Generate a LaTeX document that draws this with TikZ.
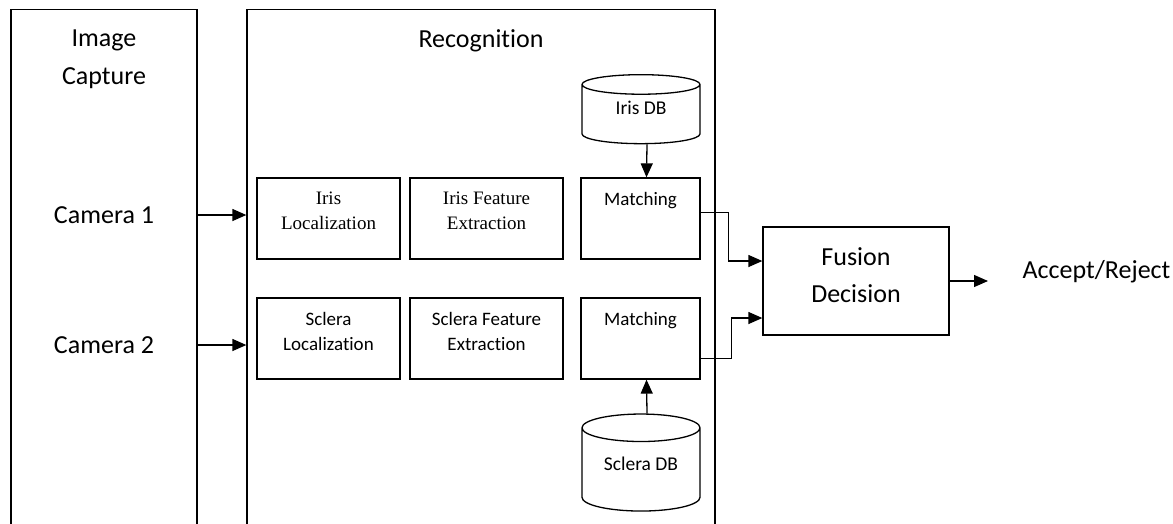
\documentclass[tikz,border=0pt]{standalone}
\usepackage{fontspec}
\setmainfont{Carlito}[Ligatures=NoCommon]
\newfontfamily\serifface{Liberation Serif}
\usetikzlibrary{arrows.meta,calc,shapes.geometric}
\def\toptext#1#2#3{\parbox[c][#2][t]{#1}{\centering #3}}

\begin{document}
\begin{tikzpicture}[x=1pt, y=-1pt, line width=1.3pt,
		panel/.style={draw, minimum height=600, anchor=north, inner sep=0},
		stage/.style={draw, inner xsep=0, inner ysep=14, font=\fontsize{19}{25}\selectfont},
		db/.style={draw, cylinder, shape border rotate=90, aspect=0.34, minimum width=118, text depth=16pt, font=\fontsize{19.5}{24}\selectfont},
		big/.style={font=\fontsize{26}{38}\selectfont, align=center, inner sep=0},
		arrow/.style={-{Triangle[length=14pt,width=12pt]}}]
			%%%%% START %%%%%
			
			\useasboundingbox (0,0) rectangle (1173,523);
			\clip (0,0) rectangle (1173,523);
			
			\node[panel, minimum width=186] (capture) at (104,9) {};
			\node[panel, minimum width=468] (recog) at (481,9) {};
			\node[big, anchor=north] (capturetitle) at (104,29) {Image\\Capture};
			\node[big, anchor=north] (recogtitle) at (481,29) {Recognition};
			
			\node[big] (cam1) at (104,215) {Camera 1};
			\node[big] (cam2) at (104,345) {Camera 2};
			
			\node[stage] (irisloc) at (328.5,218.5) {\serifface\toptext{143pt}{53pt}{Iris\\Localization}};
			\node[stage] (irisfeat) at (486.5,218.5) {\serifface\toptext{153pt}{53pt}{Iris Feature\\Extraction}};
			\node[stage] (match1) at (640.5,218.5) {\toptext{119pt}{53pt}{Matching}};
			
			\node[stage] (scleraloc) at (328.5,338.5) {\toptext{143pt}{53pt}{Sclera\\Localization}};
			\node[stage] (sclerafeat) at (486.5,338.5) {\toptext{153pt}{53pt}{Sclera Feature\\Extraction}};
			\node[stage] (match2) at (640.5,338.5) {\toptext{119pt}{53pt}{Matching}};
			
			\node[db, minimum height=69] (irisdb) at (641,116) {Iris DB};
			\node[db, minimum height=97] (scleradb) at (641,472) {Sclera DB};
			
			\node[stage, inner ysep=21, font=\fontsize{26}{37}\selectfont] (fusion) at (856,281) {\toptext{186pt}{66pt}{Fusion\\Decision}};
			\node[big, anchor=west] (accept) at (1022,272) {Accept/Reject};
			\coordinate (outend) at (988,281);
			
			\draw[arrow] (cam1 -| capture.east) -- (cam1 -| recog.west);
			\draw[arrow] (cam2 -| capture.east) -- (cam2 -| recog.west);
			
			\draw[arrow] ([xshift=6pt]irisdb.south) -- ([xshift=6pt]match1.north);
			\draw[arrow] ([xshift=6pt]scleradb.north) -- ([xshift=6pt]match2.south);
			
			\draw[arrow] ([yshift=6pt]match1.east) -- ++(28,0) |- ([yshift=20pt]fusion.west);
			\draw[arrow] ([yshift=-20pt]match2.east) -- ++(31,0) |- ([yshift=-37pt]fusion.west);
			\draw[arrow] (fusion.east) -- (outend);
			
			%%%%% END %%%%%
		\end{tikzpicture}
\end{document}
